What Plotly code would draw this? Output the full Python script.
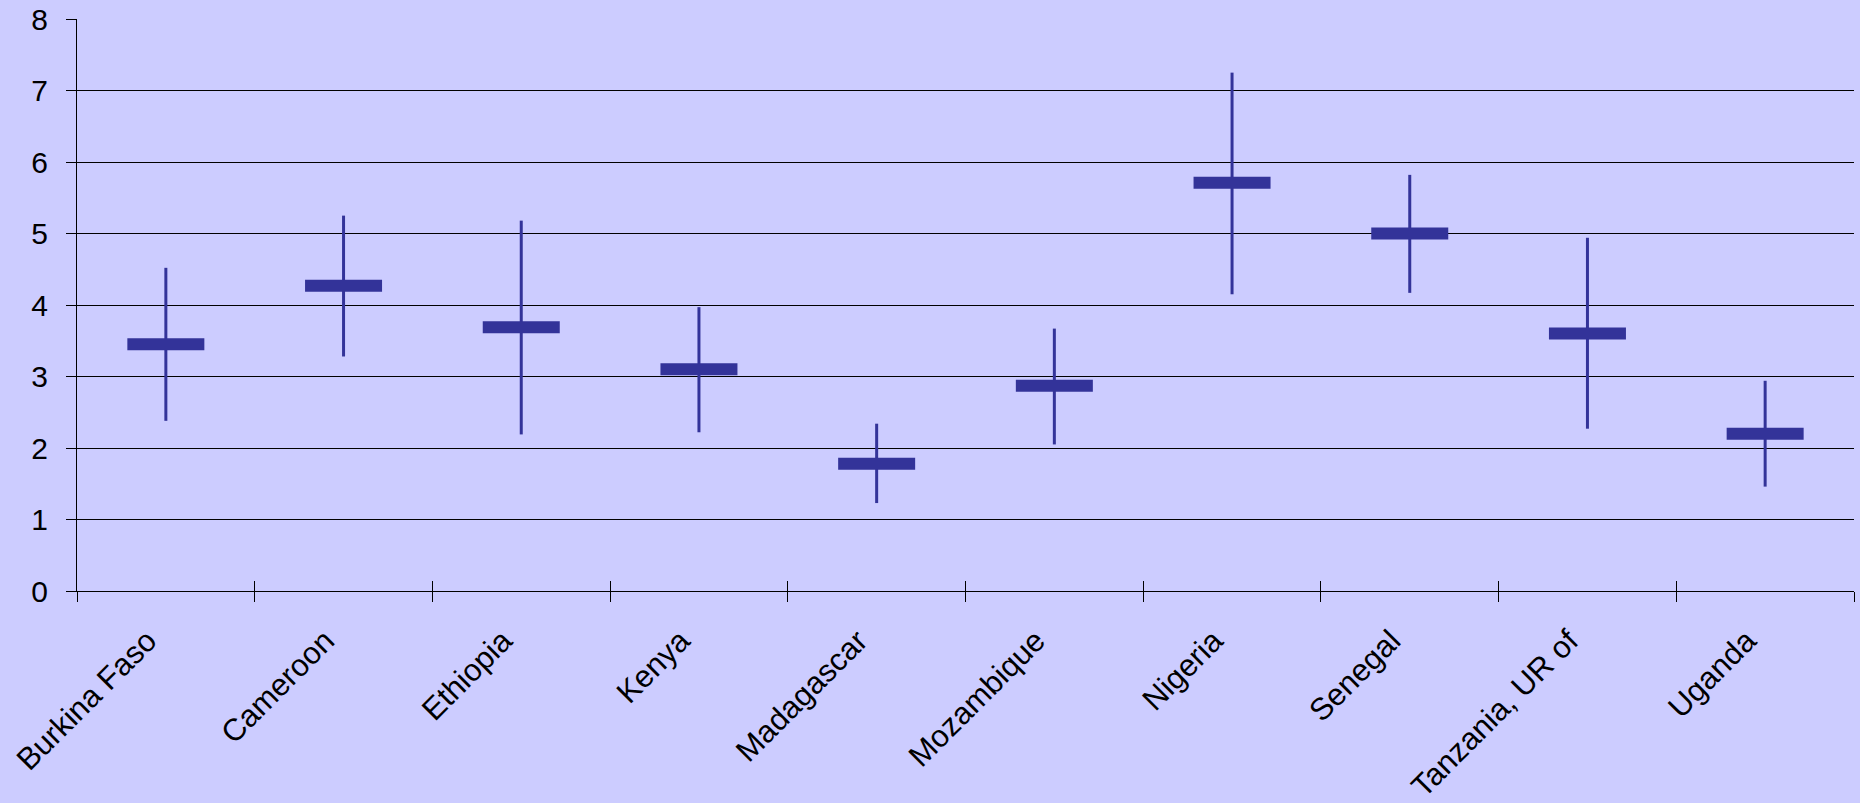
import plotly.graph_objects as go

countries = ["Burkina Faso", "Cameroon", "Ethiopia", "Kenya", "Madagascar",
             "Mozambique", "Nigeria", "Senegal", "Tanzania, UR of", "Uganda"]
high = [4.52, 5.25, 5.18, 3.97, 2.34, 3.67, 7.25, 5.82, 4.94, 2.94]
low = [2.38, 3.28, 2.19, 2.22, 1.23, 2.05, 4.15, 4.17, 2.27, 1.46]
mid = [3.45, 4.27, 3.69, 3.10, 1.78, 2.87, 5.71, 5.00, 3.60, 2.20]

y_ticks = [0, 1, 2, 3, 4, 5, 6, 7, 8]

BG = "#CCCCFF"
MARK = "#333399"
FONT = "Liberation Sans, Arial, sans-serif"
PAD = "\u00a0" * 3  # trailing padding so rotated labels sit left of the tick

err_plus = [h - m for h, m in zip(high, mid)]
err_minus = [m - l for m, l in zip(mid, low)]
x_range = [-0.5, len(countries) - 0.5]

fig = go.Figure()
fig.add_trace(go.Scatter(
    x=countries, y=mid, mode="markers",
    marker=dict(symbol="line-ew", size=55, color=MARK,
                line=dict(width=12, color=MARK)),
    error_y=dict(type="data", symmetric=False, array=err_plus,
                 arrayminus=err_minus, color=MARK, thickness=3, width=0),
    showlegend=False, hoverinfo="skip",
))
# invisible trace on the overlaying axis to draw outward tick marks
fig.add_trace(go.Scatter(x=countries, y=mid, mode="markers", xaxis="x2",
                         marker=dict(opacity=0), showlegend=False,
                         hoverinfo="skip"))

fig.update_layout(
    width=1860, height=803,
    paper_bgcolor=BG, plot_bgcolor=BG,
    margin=dict(l=77, r=6, t=19, b=212),
    font=dict(family=FONT, size=30, color="#000000"),
    xaxis=dict(type="category", categoryorder="array", categoryarray=countries,
               range=x_range, automargin=False,
               tickvals=countries, ticktext=[c + PAD for c in countries],
               tickson="boundaries", ticks="inside", ticklen=10,
               tickcolor="#000", tickwidth=1, tickangle=-45,
               showline=True, linecolor="#000", linewidth=1,
               showgrid=False, ticklabelstandoff=0,
               tickfont=dict(family=FONT, size=31)),
    xaxis2=dict(type="category", overlaying="x", matches="x", side="bottom",
                tickson="boundaries", ticks="outside", ticklen=10,
                tickcolor="#000", tickwidth=1, showticklabels=False,
                showgrid=False, showline=False, anchor="y", automargin=False),
    yaxis=dict(range=[0, 8], tickvals=y_ticks, ticks="outside", ticklen=10,
               tickcolor="#000", showline=True, linecolor="#000", linewidth=1,
               showgrid=True, gridcolor="#000", gridwidth=1, automargin=False,
               zeroline=False, ticklabelstandoff=12,
               tickfont=dict(family=FONT, size=30)),
)

fig.write_html("out.html", config={"displayModeBar": False},
               post_script="document.body.style.margin='0';")
